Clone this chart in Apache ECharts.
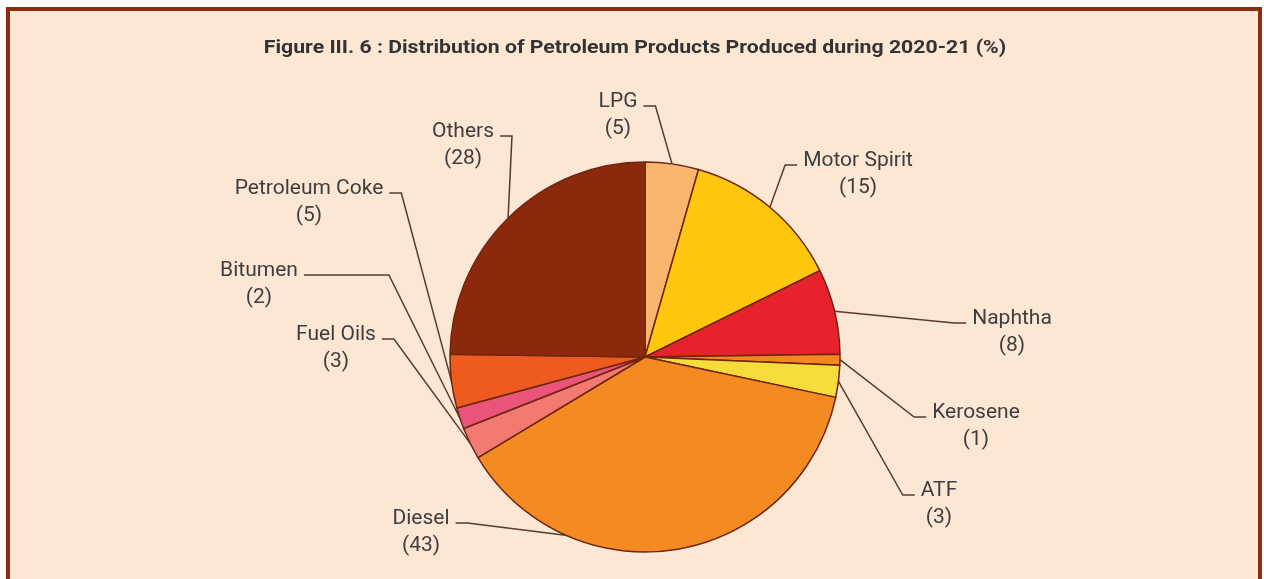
<!DOCTYPE html>
<html>
<head>
<meta charset="utf-8">
<title>Distribution of Petroleum Products Produced during 2020-21</title>
<script src="https://cdn.jsdelivr.net/npm/echarts@6/dist/echarts.min.js"></script>
<style>
  html, body { margin: 0; padding: 0; background: #ffffff; overflow: hidden; }
  #frame {
    position: absolute; left: 6px; top: 7px; width: 1248px; height: 600px;
    border: 4px solid #8a2b12; border-bottom: none;
    background: #fce6d4;
  }
  #chart { position: absolute; left: 0; top: 0; width: 1264px; height: 579px; }
</style>
</head>
<body>
<div id="frame"></div>
<div id="chart"></div>
<script>
// Petroleum products, share of output 2020-21 (%), clockwise from 12 o'clock
const products = ['LPG', 'Motor Spirit', 'Naphtha', 'Kerosene', 'ATF', 'Diesel',
                  'Fuel Oils', 'Bitumen', 'Petroleum Coke', 'Others'];
const shares = [5, 15, 8, 1, 3, 43, 3, 2, 5, 28];

const palette = ['#f9b46e', '#ffc60e', '#e8222c', '#f2871f', '#f6dc3a', '#f38a22',
                 '#f27a70', '#ea5478', '#ef5a1f', '#8c290c'];

// where each two-line label sits (centre of the text block)
const labelSpots = [
  [618, 115], [858, 174], [1012, 332], [976, 426], [939, 504],
  [421, 532], [336, 348], [259, 284], [309, 202], [463, 145]
];
// length of the flat part of each leader line next to its label
const leaderRun = [12, 12, 12, 12, 12, 12, 12, 85, 12, 12];

const PIE_CX = 645, PIE_CY = 357, PIE_R = 195;
const TITLE = 'Figure III. 6 : Distribution of Petroleum Products Produced during 2020-21 (%)';

const chart = echarts.init(document.getElementById('chart'), null, { renderer: 'canvas' });

chart.setOption({
  backgroundColor: 'transparent',
  animation: false,
  color: palette,
  graphic: [{
    type: 'text',
    x: 635, y: 48,
    scaleX: 1.18,
    style: {
      text: TITLE,
      fontFamily: 'Roboto', fontWeight: 'bold', fontSize: 18,
      fill: '#333333', align: 'center', verticalAlign: 'middle'
    }
  }],
  series: [{
    type: 'pie',
    center: [PIE_CX, PIE_CY],
    radius: PIE_R,
    startAngle: 90,
    clockwise: true,
    avoidLabelOverlap: false,
    data: products.map((name, i) => ({ name: name, value: shares[i] })),
    itemStyle: { borderColor: '#6e2610', borderWidth: 1.5 },
    label: {
      show: true,
      position: 'outside',
      formatter: '{b}\n({c})',
      fontFamily: 'Roboto',
      fontSize: 21,
      lineHeight: 27,
      color: '#3e3e3e'
    },
    labelLine: {
      show: true,
      lineStyle: { color: '#5a3a2c', width: 1.5 }
    },
    labelLayout: function (p) {
      const i = p.dataIndex;
      const spot = labelSpots[i];
      const w = p.labelRect.width, h = p.labelRect.height;
      const onRight = spot[0] > PIE_CX;
      const lineY = spot[1] - h / 2 + 18;
      const endX = onRight ? spot[0] - w / 2 - 6 : spot[0] + w / 2 + 6;
      const bendX = onRight ? endX - leaderRun[i] : endX + leaderRun[i];
      const start = p.labelLinePoints[0].slice();
      return {
        x: spot[0], y: spot[1],
        align: 'center', verticalAlign: 'middle',
        labelLinePoints: [start, [bendX, lineY], [endX, lineY]]
      };
    },
    emphasis: { disabled: true }
  }]
});
</script>
</body>
</html>
